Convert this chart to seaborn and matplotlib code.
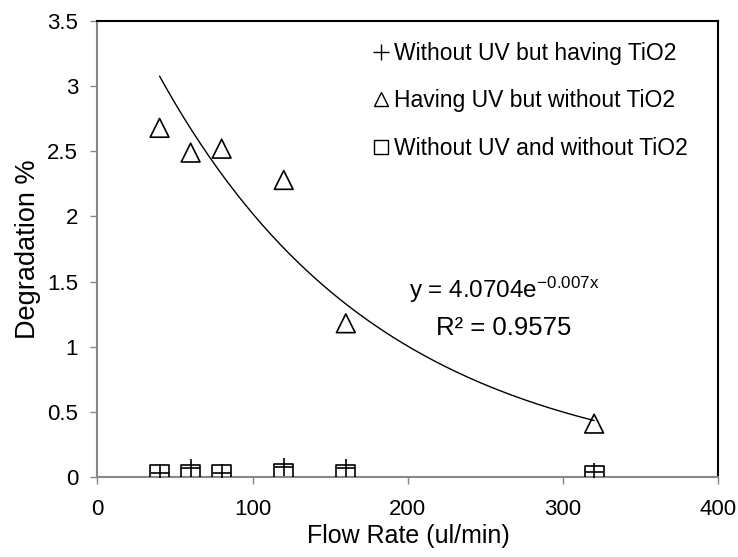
import matplotlib
matplotlib.use("Agg")
import matplotlib.pyplot as plt
import seaborn as sns
import numpy as np
import pandas as pd
from matplotlib.lines import Line2D

# ---- data ----
flow_rate = [40, 60, 80, 120, 160, 320]
uv_no_tio2 = [2.68, 2.49, 2.52, 2.28, 1.18, 0.41]      # triangles
no_uv_tio2 = [0.03, 0.07, 0.03, 0.08, 0.07, 0.04]       # plus
no_uv_no_tio2 = [0.02, 0.02, 0.02, 0.03, 0.02, 0.01]    # squares
series_labels = ["Without UV but having TiO2", "Having UV but without TiO2",
                 "Without UV and without TiO2"]
trend_a = 4.0704
trend_b = -0.007
r_squared = 0.9575
x_ticks = [0, 100, 200, 300, 400]
y_ticks = [0, 0.5, 1, 1.5, 2, 2.5, 3, 3.5]
y_tick_labels = ["0", "0.5", "1", "1.5", "2", "2.5", "3", "3.5"]

sns.set_style("white")
plt.rcParams['font.family'] = ['Liberation Sans', 'DejaVu Sans']
plt.rcParams['mathtext.fontset'] = 'custom'
plt.rcParams['mathtext.rm'] = 'Liberation Sans'
plt.rcParams['mathtext.it'] = 'Liberation Sans'
plt.rcParams['text.color'] = 'black'
plt.rcParams['axes.labelcolor'] = 'black'

fig = plt.figure(figsize=(7.38, 5.57), dpi=100)
ax = fig.add_axes([0.1321, 0.1436, 0.9733 - 0.1321, 0.9623 - 0.1436])

df = pd.DataFrame({"flow": flow_rate, "uv": uv_no_tio2,
                   "tio2": no_uv_tio2, "none": no_uv_no_tio2})

ms = 13.5
sns.scatterplot(data=df, x="flow", y="none", marker="s", s=ms**2,
                facecolors="none", edgecolor="black", linewidth=1.2, ax=ax, zorder=3)
sns.scatterplot(data=df, x="flow", y="tio2", marker="+", s=ms**2,
                color="black", linewidth=1.2, ax=ax, zorder=4)
sns.scatterplot(data=df, x="flow", y="uv", marker="^", s=ms**2,
                facecolors="none", edgecolor="black", linewidth=1.2, ax=ax, zorder=3)

# exponential trendline from the displayed equation
xs = np.linspace(min(flow_rate), max(flow_rate), 200)
sns.lineplot(x=xs, y=trend_a * np.exp(trend_b * xs), color="black",
             linewidth=1.0, ax=ax, zorder=2)

ax.text(262, 1.435, r"y = 4.0704e$^{\mathregular{-0.007x}}$", fontsize=17.5,
        ha="center", va="center", color="black")
ax.text(262, 1.143, "R² = %.4f" % r_squared, fontsize=18.5, ha="center",
        va="center", color="black")

ax.set_xlim(0, 400)
ax.set_ylim(0, 3.5)
ax.set_xticks(x_ticks)
ax.set_yticks(y_ticks)
ax.set_yticklabels(y_tick_labels)
ax.tick_params(axis="both", labelsize=16, direction="out", length=5, width=1,
               color="#888888", labelcolor="black", left=True, bottom=True)
ax.tick_params(axis="x", pad=11)
ax.tick_params(axis="y", pad=9)
ax.set_xlabel("Flow Rate (ul/min)", fontsize=18, labelpad=3, color="black")
ax.set_ylabel("Degradation %", fontsize=19.5, labelpad=4, color="black")

for side in ["left", "bottom"]:
    ax.spines[side].set_color("#888888")
    ax.spines[side].set_linewidth(1.5)
for side in ["top", "right"]:
    ax.spines[side].set_color("black")
    ax.spines[side].set_linewidth(1.5)

handles = [
    Line2D([], [], marker="+", linestyle="none", color="black", markersize=11, markeredgewidth=1),
    Line2D([], [], marker="^", linestyle="none", markerfacecolor="none", markeredgecolor="black", markersize=10, markeredgewidth=1),
    Line2D([], [], marker="s", linestyle="none", markerfacecolor="none", markeredgecolor="black", markersize=10, markeredgewidth=1),
]
leg = ax.legend(handles, series_labels, loc="upper right", frameon=False, fontsize=16.5,
                handlelength=0.5, handletextpad=0.3, labelspacing=1.08,
                borderaxespad=0.0, bbox_to_anchor=(0.965, 0.975))
for t in leg.get_texts():
    t.set_color("black")

fig.savefig("out.png", dpi=100)
